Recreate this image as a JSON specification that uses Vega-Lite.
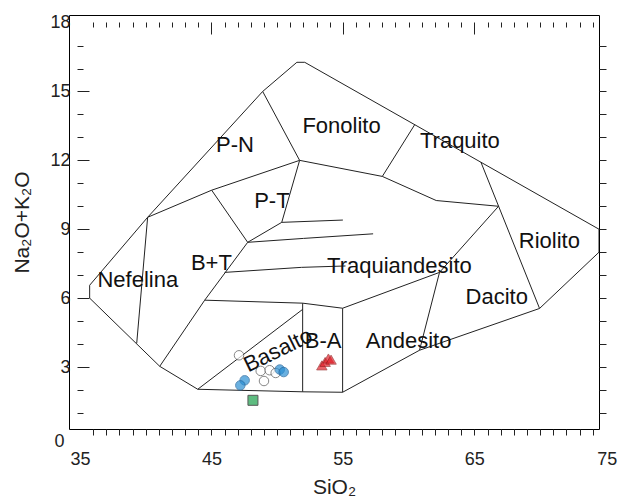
{
  "$schema": "https://vega.github.io/schema/vega-lite/v6.json",
  "width": 530,
  "height": 414,
  "autosize": "none",
  "padding": {"left": 69, "top": 15, "right": 21, "bottom": 75},
  "config": {
    "view": {"stroke": "black", "strokeWidth": 1},
    "font": "Liberation Sans",
    "axis": {"labelFont": "Liberation Sans", "titleFont": "Liberation Sans", "labelColor": "#222", "titleColor": "#222", "tickColor": "#222", "grid": false, "domain": false, "labelFontWeight": "normal", "titleFontWeight": "normal"}
  },
  "datasets": {
    "lines": [
      {"seg": "outer", "ord": 1, "x": 35.74, "y": 6.0},
      {"seg": "outer", "ord": 2, "x": 35.74, "y": 6.56},
      {"seg": "outer", "ord": 3, "x": 40.15, "y": 9.52},
      {"seg": "outer", "ord": 4, "x": 48.9, "y": 15.0},
      {"seg": "outer", "ord": 5, "x": 51.5, "y": 16.27},
      {"seg": "outer", "ord": 6, "x": 52.1, "y": 16.27},
      {"seg": "outer", "ord": 7, "x": 74.48, "y": 9.0},
      {"seg": "outer", "ord": 8, "x": 74.48, "y": 8.0},
      {"seg": "outer", "ord": 9, "x": 69.96, "y": 5.55},
      {"seg": "outer", "ord": 10, "x": 60.83, "y": 3.73},
      {"seg": "outer", "ord": 11, "x": 54.98, "y": 1.9},
      {"seg": "outer", "ord": 12, "x": 51.94, "y": 1.92},
      {"seg": "outer", "ord": 13, "x": 43.96, "y": 2.03},
      {"seg": "outer", "ord": 14, "x": 41.07, "y": 3.03},
      {"seg": "outer", "ord": 15, "x": 35.74, "y": 6.0},
      {"seg": "nef", "ord": 1, "x": 40.15, "y": 9.52},
      {"seg": "nef", "ord": 2, "x": 39.32, "y": 4.03},
      {"seg": "pnb", "ord": 1, "x": 40.15, "y": 9.52},
      {"seg": "pnb", "ord": 2, "x": 45.02, "y": 10.7},
      {"seg": "pnb", "ord": 3, "x": 51.71, "y": 12.0},
      {"seg": "ptb", "ord": 1, "x": 45.02, "y": 10.7},
      {"seg": "ptb", "ord": 2, "x": 47.76, "y": 8.43},
      {"seg": "btr", "ord": 1, "x": 47.76, "y": 8.43},
      {"seg": "btr", "ord": 2, "x": 44.49, "y": 5.91},
      {"seg": "btr", "ord": 3, "x": 41.07, "y": 3.03},
      {"seg": "ptr", "ord": 1, "x": 51.71, "y": 12.0},
      {"seg": "ptr", "ord": 2, "x": 50.35, "y": 9.3},
      {"seg": "ptr", "ord": 3, "x": 47.76, "y": 8.43},
      {"seg": "fonpn", "ord": 1, "x": 48.9, "y": 15.0},
      {"seg": "fonpn", "ord": 2, "x": 51.71, "y": 12.0},
      {"seg": "fonb", "ord": 1, "x": 51.71, "y": 12.0},
      {"seg": "fonb", "ord": 2, "x": 58.0, "y": 11.3},
      {"seg": "fonb", "ord": 3, "x": 60.46, "y": 13.55},
      {"seg": "trb", "ord": 1, "x": 58.0, "y": 11.3},
      {"seg": "trb", "ord": 2, "x": 62.1, "y": 10.25},
      {"seg": "trb", "ord": 3, "x": 66.84, "y": 10.0},
      {"seg": "rio", "ord": 1, "x": 65.5, "y": 11.92},
      {"seg": "rio", "ord": 2, "x": 69.96, "y": 5.55},
      {"seg": "dac", "ord": 1, "x": 62.35, "y": 7.12},
      {"seg": "dac", "ord": 2, "x": 66.84, "y": 10.0},
      {"seg": "and", "ord": 1, "x": 54.98, "y": 5.56},
      {"seg": "and", "ord": 2, "x": 62.35, "y": 7.12},
      {"seg": "and", "ord": 3, "x": 60.83, "y": 3.73},
      {"seg": "ba", "ord": 1, "x": 51.94, "y": 1.92},
      {"seg": "ba", "ord": 2, "x": 51.94, "y": 5.78},
      {"seg": "ba", "ord": 3, "x": 54.98, "y": 5.56},
      {"seg": "ba", "ord": 4, "x": 54.98, "y": 1.9},
      {"seg": "haw", "ord": 1, "x": 44.49, "y": 5.91},
      {"seg": "haw", "ord": 2, "x": 51.94, "y": 5.78},
      {"seg": "bas", "ord": 1, "x": 43.96, "y": 2.03},
      {"seg": "bas", "ord": 2, "x": 51.94, "y": 5.51},
      {"seg": "l1", "ord": 1, "x": 46.01, "y": 7.12},
      {"seg": "l1", "ord": 2, "x": 51.86, "y": 7.34},
      {"seg": "l1", "ord": 3, "x": 55.2, "y": 7.4},
      {"seg": "l2", "ord": 1, "x": 47.76, "y": 8.43},
      {"seg": "l2", "ord": 2, "x": 52.0, "y": 8.6},
      {"seg": "l2", "ord": 3, "x": 57.3, "y": 8.8},
      {"seg": "l3", "ord": 1, "x": 50.35, "y": 9.3},
      {"seg": "l3", "ord": 2, "x": 55.0, "y": 9.4}
    ],
    "pts": [
      {"grp": "open", "x": 47.1, "y": 3.51},
      {"grp": "open", "x": 48.75, "y": 2.83},
      {"grp": "open", "x": 49.0, "y": 2.39},
      {"grp": "open", "x": 49.43, "y": 2.86},
      {"grp": "open", "x": 49.89, "y": 2.74},
      {"grp": "blue", "x": 50.2, "y": 2.89},
      {"grp": "blue", "x": 50.5, "y": 2.78},
      {"grp": "blue", "x": 47.53, "y": 2.42},
      {"grp": "blue", "x": 47.2, "y": 2.2},
      {"grp": "red", "x": 53.4, "y": 3.07},
      {"grp": "red", "x": 53.65, "y": 3.22},
      {"grp": "red", "x": 53.9, "y": 3.37},
      {"grp": "red", "x": 54.1, "y": 3.32},
      {"grp": "green", "x": 48.16, "y": 1.55}
    ],
    "labels": [
      {"t": "Nefelina", "x": 39.4, "y": 6.77, "a": 0},
      {"t": "B+T", "x": 45.0, "y": 7.55, "a": 0},
      {"t": "P-N", "x": 46.8, "y": 12.65, "a": 0},
      {"t": "P-T", "x": 49.6, "y": 10.25, "a": 0},
      {"t": "Fonolito", "x": 54.9, "y": 13.5, "a": 0},
      {"t": "Traquito", "x": 63.9, "y": 12.83, "a": 0},
      {"t": "Riolito", "x": 70.7, "y": 8.5, "a": 0},
      {"t": "Traquiandesito", "x": 59.3, "y": 7.4, "a": 0},
      {"t": "Dacito", "x": 66.7, "y": 6.03, "a": 0},
      {"t": "Andesito", "x": 60.0, "y": 4.15, "a": 0},
      {"t": "B-A", "x": 53.5, "y": 4.12, "a": 0},
      {"t": "Basalto", "x": 50.07, "y": 3.73, "a": -26}
    ]
  },
  "layer": [
    {
      "data": {"name": "lines"},
      "mark": {"type": "line", "color": "#222", "strokeWidth": 1, "clip": true},
      "encoding": {
        "x": {"field": "x", "type": "quantitative", "scale": {"domain": [34.17, 74.48], "nice": false, "zero": false},
          "axis": {"orient": "bottom", "title": "SiO₂", "titleFontSize": 21, "titlePadding": 8,
            "values": [35,36,37,38,39,40,41,42,43,44,45,46,47,48,49,50,51,52,53,54,55,56,57,58,59,60,61,62,63,64,65,66,67,68,69,70,71,72,73,74,74.47],
            "labelExpr": "datum.value > 74 && datum.value < 75 ? '75' : (datum.value % 10 === 5 ? datum.label : '')",
            "tickSize": 6,
            "tickOpacity": {"condition": {"test": "datum.value === 35 || datum.value > 74.1", "value": 0}, "value": 1},
            "labelOffset": {"condition": {"test": "datum.value > 74.1", "value": 8}, "value": 0},
            "labelFontSize": 18, "labelPadding": 15, "labelOverlap": false, "labelFlush": false, "labelBound": false}},
        "y": {"field": "y", "type": "quantitative", "scale": {"domain": [0.3, 18.33], "nice": false, "zero": false},
          "axis": {"orient": "left", "title": "Na₂O+K₂O", "titleFontSize": 21, "titlePadding": 17,
            "values": [0.3,1,2,3,4,5,6,7,8,9,10,11,12,13,14,15,16,17,18],
            "labelExpr": "datum.value === 0.3 ? '0' : (datum.value % 3 === 0 ? datum.label : '')",
            "offset": -8,
            "tickSize": {"condition": {"test": "datum.value % 3 === 0", "value": -12}, "value": -6},
            "tickOpacity": {"condition": {"test": "datum.value === 0.3 || datum.value === 18", "value": 0}, "value": 1},
            "labelOffset": {"condition": {"test": "datum.value === 0.3", "value": 12}, "value": 0},
            "labelFontSize": 18, "labelPadding": 19, "labelOverlap": false, "labelFlush": false, "labelBound": false}},
        "detail": {"field": "seg"},
        "order": {"field": "ord"}
      }
    },
    {
      "data": {"name": "pts"},
      "transform": [{"filter": "datum.grp === 'open' || datum.grp === 'blue'"}],
      "mark": {"type": "point", "shape": "circle", "size": 90, "strokeWidth": 1, "filled": true},
      "encoding": {
        "x": {"field": "x", "type": "quantitative",
          "axis": {"orient": "top", "title": null, "labels": false, "offset": -7,
            "values": [36,37,38,39,40,41,42,43,44,45,46,47,48,49,50,51,52,53,54,55,56,57,58,59,60,61,62,63,64,65,66,67,68,69,70,71,72,73,74],
            "tickSize": {"condition": {"test": "datum.value % 10 === 5", "value": -12}, "value": -5}}},
        "y": {"field": "y", "type": "quantitative",
          "axis": {"orient": "right", "title": null, "labels": false,
            "values": [1,2,3,4,5,6,7,8,9,10,11,12,13,14,15,16,17],
            "tickSize": 7}},
        "fill": {"field": "grp", "type": "nominal", "scale": {"domain": ["open", "blue"], "range": ["#ffffff", "#2b8fd3"]}, "legend": null},
        "stroke": {"field": "grp", "type": "nominal", "scale": {"domain": ["open", "blue"], "range": ["#555555", "#1b5f99"]}, "legend": null}
      }
    },
    {
      "data": {"name": "pts"},
      "transform": [{"filter": "datum.grp === 'red'"}],
      "mark": {"type": "point", "shape": "triangle-up", "size": 110, "filled": true, "fill": "#e3202a", "stroke": "#8a1414", "strokeWidth": 0.8},
      "encoding": {
        "x": {"field": "x", "type": "quantitative", "axis": null},
        "y": {"field": "y", "type": "quantitative", "axis": null}
      }
    },
    {
      "data": {"name": "pts"},
      "transform": [{"filter": "datum.grp === 'green'"}],
      "mark": {"type": "point", "shape": "square", "size": 100, "filled": true, "fill": "#1ba14b", "stroke": "#111", "strokeWidth": 1},
      "encoding": {
        "x": {"field": "x", "type": "quantitative", "axis": null},
        "y": {"field": "y", "type": "quantitative", "axis": null}
      }
    },
    {
      "data": {"name": "labels"},
      "mark": {"type": "text", "fontSize": 22, "font": "Liberation Sans", "color": "#111", "align": "center", "baseline": "middle"},
      "encoding": {
        "x": {"field": "x", "type": "quantitative", "axis": null},
        "y": {"field": "y", "type": "quantitative", "axis": null},
        "text": {"field": "t"},
        "angle": {"field": "a", "type": "quantitative", "scale": null}
      }
    }
  ],
  "resolve": {"axis": {"x": "independent", "y": "independent"}}
}
